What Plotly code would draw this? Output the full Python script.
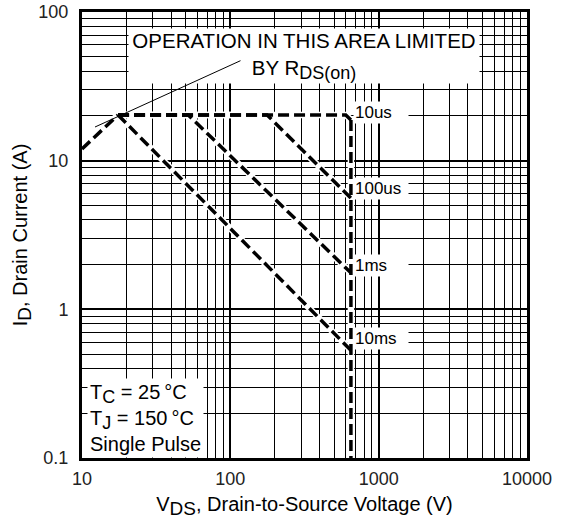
import plotly.graph_objects as go
import math

# ---- data (V in volts, I in amps) ----
rds_v = [10, 17.5]
rds_i = [12.0, 20.3]

us10_v = [17.5, 600, 650]
us10_i = [20.3, 20.3, 18.8]

us100_v = [17.5, 177, 650]
us100_i = [20.3, 20.3, 5.6]

ms1_v = [17.5, 52, 650]
ms1_i = [20.3, 20.3, 1.76]

ms10_v = [17.5, 650]
ms10_i = [20.3, 0.53]

bv_v = [650, 650]
bv_i = [18.8, 0.1]

curve_labels = ["10us", "100us", "1ms", "10ms"]
label_y = [18.8, 5.6, 1.76, 0.53]
label_shift = [7, 10, 7, 12]

x_ticks = [10, 100, 1000, 10000]
x_ticktext = ["10", "100", "1000", "10000"]
y_ticks = [0.1, 1, 10, 100]
y_ticktext = ["0.1", "1", "10", "100"]

FONT = "Liberation Sans, Arial, sans-serif"

def sub(t, px):
    return "<sub><span style='font-size:%dpx'>%s</span></sub>" % (px, t)

fig = go.Figure()

curves = [(rds_v, rds_i), (us10_v, us10_i), (us100_v, us100_i), (ms1_v, ms1_i), (ms10_v, ms10_i), (bv_v, bv_i)]
for vv, ii in curves:
    fig.add_trace(go.Scatter(x=vv, y=ii, mode="lines",
                             line=dict(color="white", width=6.5), hoverinfo="skip", showlegend=False))
for vv, ii in curves:
    fig.add_trace(go.Scatter(x=vv, y=ii, mode="lines",
                             line=dict(color="black", width=3.5, dash="11px,5px"), showlegend=False))

annotations = []
# curve labels
for lab, yv, sh in zip(curve_labels, label_y, label_shift):
    annotations.append(dict(x=math.log10(650), y=math.log10(yv), xref="x", yref="y",
                            text=lab, showarrow=False, xanchor="left", yanchor="middle",
                            xshift=2, yshift=sh,
                            bgcolor="white", width=52, align="left", borderpad=1,
                            font=dict(family=FONT, size=17, color="black")))

# region text
annotations.append(dict(x=(304 - 82) / 445, y=(458 - 56) / 446, xref="paper", yref="paper",
                        text="OPERATION IN THIS AREA LIMITED<br>BY R" + sub("DS(on)", 18),
                        showarrow=False, xanchor="center", yanchor="middle",
                        bgcolor="white", borderpad=0, width=350, align="center",
                        font=dict(family=FONT, size=20.5, color="black")))
# arrow line
annotations.append(dict(x=(95 - 82) / 445, y=(458 - 127) / 446, xref="paper", yref="paper",
                        ax=147, ay=-67, axref="pixel", ayref="pixel",
                        text="", showarrow=True, arrowhead=0, arrowwidth=1, arrowcolor="black",
                        standoff=0, startstandoff=0))
# conditions box
annotations.append(dict(x=0, y=0, xref="paper", yref="paper",
                        text="T" + sub("C", 18) + " = 25\u2009°C<br>T" + sub("J", 18)
                             + " = 150\u2009°C<br>Single Pulse",
                        showarrow=False, xanchor="left", yanchor="bottom", align="left",
                        bgcolor="white", borderpad=2, xshift=5,
                        font=dict(family=FONT, size=20, color="black")))

axis_common = dict(type="log", showgrid=True, gridcolor="black", gridwidth=2,
                   showline=True, linecolor="black", linewidth=3, mirror=True,
                   ticks="", zeroline=False, automargin=False, ticklabeloverflow="allow",
                   minor=dict(showgrid=True, gridcolor="black", gridwidth=1, dtick="D1", ticks=""),
                   tickfont=dict(family=FONT, size=18, color="#222"))

fig.update_xaxes(**axis_common, range=[1, 4], tickvals=x_ticks, ticktext=x_ticktext,
                 ticklabelstandoff=2,
                 title=dict(text="V" + sub("DS", 19) + ", Drain-to-Source Voltage (V)", standoff=10,
                            font=dict(family=FONT, size=20, color="black")))
fig.update_yaxes(**axis_common, range=[-1, 2], tickvals=y_ticks, ticktext=y_ticktext,
                 ticklabelstandoff=7,
                 title=dict(text="I" + sub("D", 19) + ", Drain Current (A)", standoff=6,
                            font=dict(family=FONT, size=20, color="black")))

fig.update_layout(width=568, height=523, margin=dict(l=82, r=41, t=12, b=65),
                  paper_bgcolor="white", plot_bgcolor="white",
                  annotations=annotations, showlegend=False)

fig.write_html("out.html", config={"displayModeBar": False, "staticPlot": True},
               post_script="document.body.style.margin='0px';")
